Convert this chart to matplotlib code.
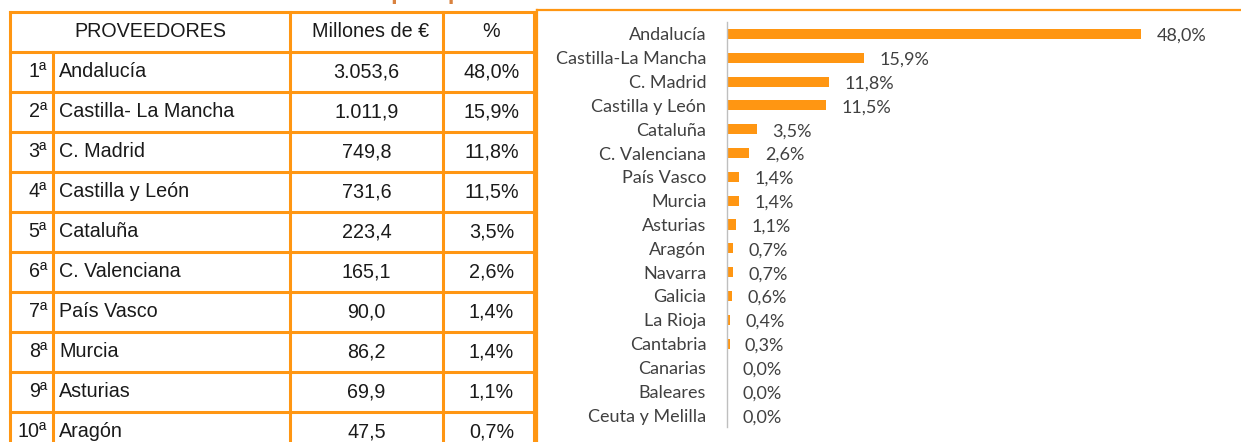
import matplotlib.pyplot as plt
from matplotlib.lines import Line2D

# table data (top 10 suppliers)
ranks = ["1ª", "2ª", "3ª", "4ª", "5ª", "6ª", "7ª", "8ª", "9ª", "10ª"]
table_regions = ["Andalucía", "Castilla- La Mancha", "C. Madrid", "Castilla y León",
                 "Cataluña", "C. Valenciana", "País Vasco", "Murcia", "Asturias", "Aragón"]
table_millions = ["3.053,6", "1.011,9", "749,8", "731,6", "223,4",
                  "165,1", "90,0", "86,2", "69,9", "47,5"]
table_pct = ["48,0%", "15,9%", "11,8%", "11,5%", "3,5%",
             "2,6%", "1,4%", "1,4%", "1,1%", "0,7%"]
headers = ["PROVEEDORES", "Millones de €", "%"]

# bar chart data
bar_regions = ["Andalucía", "Castilla-La Mancha", "C. Madrid", "Castilla y León",
               "Cataluña", "C. Valenciana", "País Vasco", "Murcia", "Asturias",
               "Aragón", "Navarra", "Galicia", "La Rioja", "Cantabria",
               "Canarias", "Baleares", "Ceuta y Melilla"]
bar_pct = [48.0, 15.9, 11.8, 11.5, 3.5, 2.6, 1.4, 1.4, 1.1,
           0.7, 0.7, 0.6, 0.4, 0.3, 0.04, 0.04, 0.04]
bar_labels = ["48,0%", "15,9%", "11,8%", "11,5%", "3,5%", "2,6%", "1,4%", "1,4%",
              "1,1%", "0,7%", "0,7%", "0,6%", "0,4%", "0,3%", "0,0%", "0,0%", "0,0%"]

ORANGE = "#FF9612"
W, H = 1241, 442

fig = plt.figure(figsize=(W / 100, H / 100), dpi=100)

# overlay axes in pixel units for the table
tab = fig.add_axes([0, 0, 1, 1])
tab.set_xlim(0, W)
tab.set_ylim(H, 0)
tab.axis("off")

# title sits above the crop, only its lowest pixels show
tab.text(14, -1.5, "Distribución territorial de las compras por Comunidades Autónomas",
         fontsize=17, fontweight="bold", color="#D9823F", va="baseline",
         family="Liberation Sans", clip_on=True)

col_x = [10, 53, 290, 443, 534]
top = 12
header_h = 39.5
row_h = 40
lw = 2.2
n = len(ranks)
row_y = [top + header_h + i * row_h for i in range(n + 1)]

# horizontal lines
for y in [top] + row_y:
    tab.add_line(Line2D([col_x[0], col_x[-1]], [y, y], color=ORANGE, lw=lw))
# vertical lines
for x in [col_x[0], col_x[2], col_x[3], col_x[4]]:
    tab.add_line(Line2D([x, x], [top, H + 5], color=ORANGE, lw=lw))
tab.add_line(Line2D([col_x[1], col_x[1]], [row_y[0], H + 5], color=ORANGE, lw=lw))

tfont = dict(family="Liberation Sans", fontsize=14.2, color="#1a1a1a", va="center")
hy = top + header_h / 2
tab.text((col_x[0] + col_x[2]) / 2, hy, headers[0], ha="center", **tfont)
tab.text((col_x[2] + col_x[3]) / 2 + 4, hy, headers[1], ha="center", **tfont)
tab.text((col_x[3] + col_x[4]) / 2 + 3, hy, headers[2], ha="center", **tfont)
for i in range(n):
    cy = row_y[i] + row_h / 2
    tab.text(47, cy, ranks[i], ha="right", **tfont)
    tab.text(59, cy, table_regions[i], ha="left", **tfont)
    tab.text((col_x[2] + col_x[3]) / 2, cy, table_millions[i], ha="center", **tfont)
    tab.text((col_x[3] + col_x[4]) / 2 + 3, cy, table_pct[i], ha="center", **tfont)

# chart frame
tab.add_line(Line2D([537, W], [10, 10], color=ORANGE, lw=1.6))
tab.add_line(Line2D([537, 537], [10, H], color=ORANGE, lw=1.6))

# bar chart
ax = fig.add_axes([727 / W, 1 - 427 / H, (1230 - 727) / W, (427 - 22) / H])
pos = list(range(len(bar_regions)))
ax.barh(pos, bar_pct, height=0.42, color=ORANGE)
ax.set_ylim(len(bar_regions) - 0.5, -0.5)
ax.set_xlim(0, 58.3)
ax.set_yticks(pos)
ax.set_yticklabels(bar_regions, family="Lato", fontsize=13, color="#404040")
ax.tick_params(axis="y", length=0, pad=15)
ax.set_xticks([])
for s in ["top", "right", "bottom"]:
    ax.spines[s].set_visible(False)
ax.spines["left"].set_color("#BFBFBF")
ax.spines["left"].set_linewidth(1)
for p, v, lab in zip(pos, bar_pct, bar_labels):
    ax.annotate(lab, (v, p), xytext=(11, -1.5), textcoords="offset points",
                va="center", ha="left", family="Lato", fontsize=13, color="#404040")

fig.savefig("out.png", dpi=100)
